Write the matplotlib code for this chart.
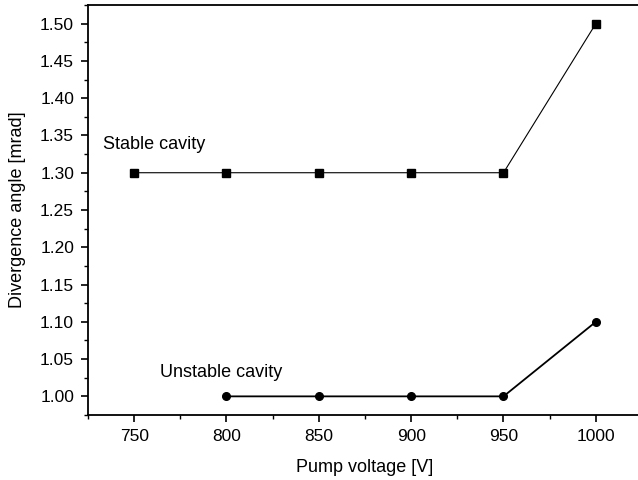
import matplotlib
matplotlib.use('Agg')
from matplotlib import pyplot as plt
from matplotlib.ticker import MultipleLocator, FormatStrFormatter

plt.rcParams['font.family'] = ['Liberation Sans', 'DejaVu Sans']

# data
stable_v = [750, 800, 850, 900, 950, 1000]
stable_angle = [1.30, 1.30, 1.30, 1.30, 1.30, 1.50]
unstable_v = [800, 850, 900, 950, 1000]
unstable_angle = [1.00, 1.00, 1.00, 1.00, 1.10]

fig = plt.figure(figsize=(6.38, 4.8), dpi=100)
ax = fig.add_axes([88/638, 1-415/480, (642-88)/638, (415-5)/480])

ax.plot(stable_v, stable_angle, color='black', lw=0.8, marker='s', ms=5.5)
ax.plot(unstable_v, unstable_angle, color='black', lw=1.3, marker='o', ms=5.5)

ax.text(733, 1.338, 'Stable cavity', fontsize=13, va='center')
ax.text(764, 1.032, 'Unstable cavity', fontsize=13, va='center')

ax.set_xlim(725, 1025)
ax.set_ylim(0.975, 1.525)
ax.xaxis.set_major_locator(MultipleLocator(50))
ax.xaxis.set_minor_locator(MultipleLocator(25))
ax.yaxis.set_major_locator(MultipleLocator(0.05))
ax.yaxis.set_minor_locator(MultipleLocator(0.025))
ax.yaxis.set_major_formatter(FormatStrFormatter('%.2f'))
ax.tick_params(which='major', direction='out', length=5, width=1.2, labelsize=12.5, pad=5)
ax.tick_params(which='minor', direction='out', length=3, width=1.0)
for s in ax.spines.values():
    s.set_linewidth(1.3)

ax.set_xlabel('Pump voltage [V]', fontsize=13, labelpad=11)
ax.set_ylabel('Divergence angle [mrad]', fontsize=13, labelpad=10)

fig.savefig('out.png', dpi=100)
